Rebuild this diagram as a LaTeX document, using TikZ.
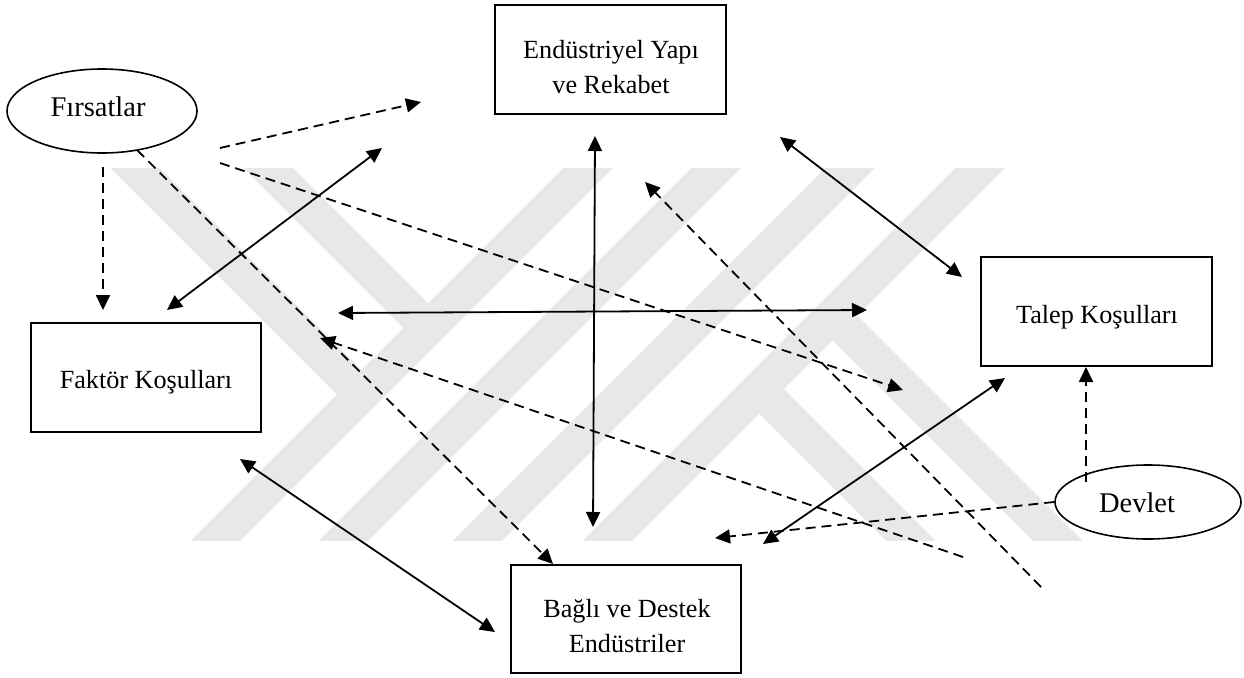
\documentclass[tikz,border=0pt]{standalone}
\usepackage{fontspec}
\setmainfont{Liberation Serif}
\usetikzlibrary{arrows.meta,calc,shapes.geometric}
\begin{document}
\begin{tikzpicture}[x=1pt,y=-1pt,
  wm/.style={line width=35pt,color=black!9},
  boxnode/.style={draw,line width=1.6pt,rectangle,inner sep=0pt,minimum width=230pt,minimum height=109pt},
  ellnode/.style={draw,line width=1.6pt,ellipse,inner sep=0pt},
  btxt/.style={font=\fontsize{26.2}{35}\selectfont,align=center,inner sep=0pt},
  etxt/.style={font=\fontsize{28.5}{34}\selectfont,inner sep=0pt},
  link/.style={line width=1.8pt,-{Triangle[length=15pt,width=14pt]}},
  dlink/.style={link,dash pattern=on 10pt off 6pt},
  both/.style={line width=1.8pt,{Triangle[length=15pt,width=14pt]}-{Triangle[length=15pt,width=14pt]}}
]
\useasboundingbox (0,0) rectangle (1244,677);
% watermark
\begin{scope}
\clip (0,168) rectangle (1244,540);
\draw[wm] (196,560) -- (608,148);
\draw[wm] (324,560) -- (736,148);
\draw[wm] (458,560) -- (870,148);
\draw[wm] (588,560) -- (1000,148);
\draw[wm] (115,148) -- (361.5,394.5);
\draw[wm] (248,148) -- (428,328);
\draw[wm] (759,389) -- (930,560);
\draw[wm] (832.5,315.5) -- (1077,560);
\end{scope}
% nodes
\node[ellnode,minimum width=190pt,minimum height=84pt] (fir) at (102,111) {};
\node[etxt] (firt) at (98,107) {Fırsatlar};
\node[ellnode,minimum width=186pt,minimum height=74pt] (dev) at (1148,502) {};
\node[etxt] (devt) at (1137,503) {Devlet};
\node[boxnode,minimum width=231pt] (ind) at (610.5,59.5) {};
\node[btxt] (indt) at (611,67.5) {Endüstriyel Yapı\\ve Rekabet};
\node[boxnode,minimum width=231pt] (tal) at (1096.5,311.5) {};
\node[btxt] (talt) at (1097,317) {Talep Koşulları};
\node[boxnode] (fak) at (146,377.5) {};
\node[btxt] (fakt) at (146,382) {Faktör Koşulları};
\node[boxnode,minimum height=108pt] (bag) at (626,619) {};
\node[btxt] (bagt) at (627,626) {Bağlı ve Destek\\Endüstriler};
% coordinates
\coordinate (a1s) at (103,167); \coordinate (a1e) at (103,310);
\coordinate (a2s) at (220,148); \coordinate (a2e) at (421,102);
\coordinate (a3s) at (220,163); \coordinate (a3e) at (903,390);
\coordinate (a4s) at (137,150); \coordinate (a4e) at (553,564);
\coordinate (b1s) at (167,310); \coordinate (b1e) at (382,148);
\coordinate (b2s) at (338,313); \coordinate (b2e) at (867,310);
\coordinate (b3s) at (595,136); \coordinate (b3e) at (593,527);
\coordinate (a5s) at (1041,587); \coordinate (a5e) at (645,182);
\coordinate (a6s) at (963,557); \coordinate (a6e) at (320,338);
\coordinate (b4s) at (780,137); \coordinate (b4e) at (962,277);
\coordinate (b5s) at (1005,378); \coordinate (b5e) at (763,544);
\coordinate (a7s) at (1086,482); \coordinate (a7e) at (1086,367);
\coordinate (a8e) at (715,538);
\coordinate (b6s) at (240,459); \coordinate (b6e) at (495,632);
% dashed arrows
\draw[dlink] (a1s) -- (a1e);
\draw[dlink] (a2s) -- (a2e);
\draw[dlink] (a3s) -- (a3e);
\draw[dlink] (a4s) -- (a4e);
\draw[dlink] (a5s) -- (a5e);
\draw[dlink] (a6s) -- (a6e);
\draw[dlink] (a7s) -- (a7e);
\draw[dlink] (dev.west) -- (a8e);
% solid double arrows
\draw[both] (b1s) -- (b1e);
\draw[both] (b2s) -- (b2e);
\draw[both] (b3s) -- (b3e);
\draw[both] (b4s) -- (b4e);
\draw[both] (b5s) -- (b5e);
\draw[both] (b6s) -- (b6e);
\end{tikzpicture}
\end{document}
